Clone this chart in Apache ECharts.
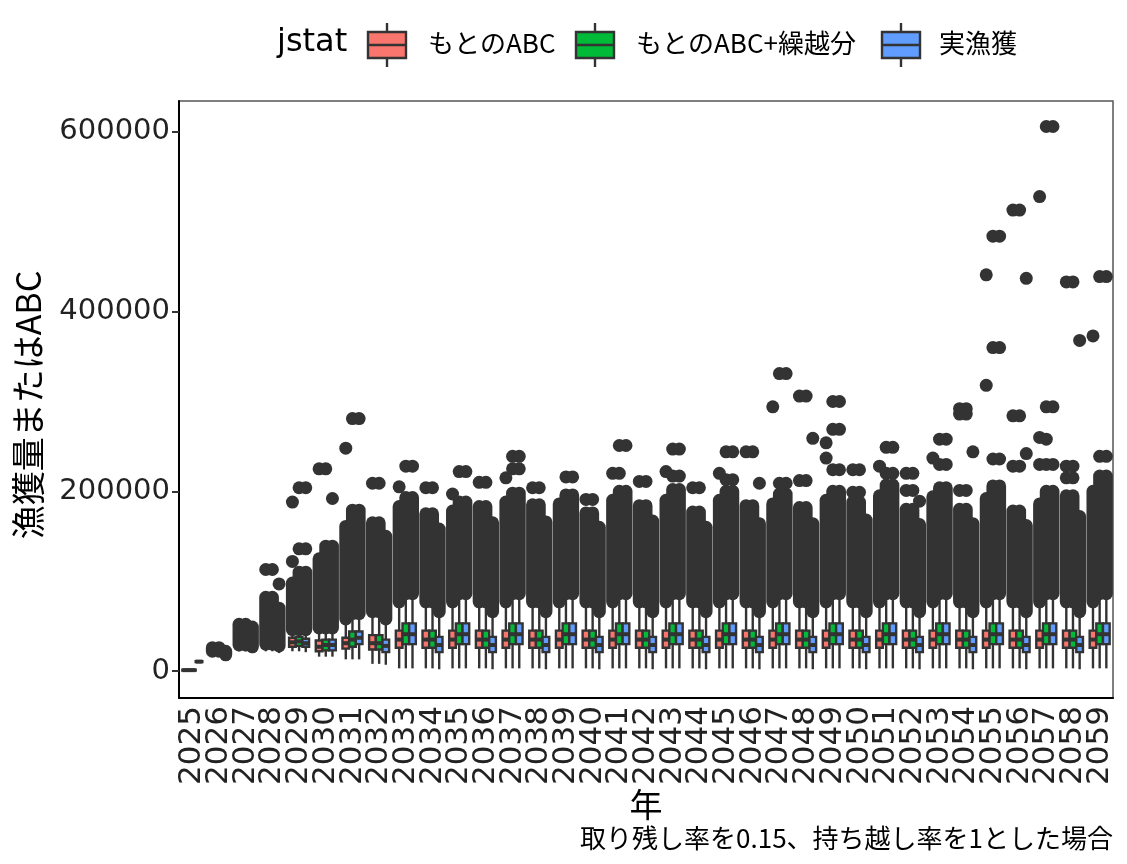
<!DOCTYPE html>
<html>
<head>
<meta charset="utf-8">
<script src="https://cdn.jsdelivr.net/npm/echarts@6/dist/echarts.min.js"></script>
<style>
  html, body { margin: 0; background: #fff; }
  #main { width: 1127px; height: 864px; }
</style>
</head>
<body>
<div id="main"></div>
<script>
// 年（カテゴリ）
const years = ['2025', '2026', '2027', '2028', '2029', '2030', '2031', '2032', '2033', '2034',
  '2035', '2036', '2037', '2038', '2039', '2040', '2041', '2042', '2043', '2044',
  '2045', '2046', '2047', '2048', '2049', '2050', '2051', '2052', '2053', '2054',
  '2055', '2056', '2057', '2058', '2059'];
const groupNames = ['もとのABC', 'もとのABC+繰越分', '実漁獲'];
const yTicks = [0, 200000, 400000, 600000];

// 箱ひげ [下ひげ, Q1, 中央値, Q3, 上ひげ]
const boxRed = [
  [0, 500, 1000, 1500, 2000], [21000, 24000, 25500, 27000, 30000], [22000, 30000, 35000, 40000, 50000],
  [22000, 28000, 32000, 37000, 50000], [22000, 27000, 32000, 37000, 42000], [16000, 22000, 27000, 34000, 42000],
  [13000, 25000, 31000, 37000, 53000], [8000, 24000, 31000, 40000, 62000], [3000, 26000, 35000, 45000, 71000],
  [3000, 26000, 35000, 45000, 71000], [3000, 26000, 35000, 45000, 71000], [3000, 26000, 35000, 45000, 71000],
  [3000, 26000, 35000, 45000, 71000], [3000, 26000, 35000, 45000, 71000], [3000, 26000, 35000, 45000, 71000],
  [3000, 26000, 35000, 45000, 71000], [3000, 26000, 35000, 45000, 71000], [3000, 26000, 35000, 45000, 71000],
  [3000, 26000, 35000, 45000, 71000], [3000, 26000, 35000, 45000, 71000], [3000, 26000, 35000, 45000, 71000],
  [3000, 26000, 35000, 45000, 71000], [3000, 26000, 35000, 45000, 71000], [3000, 26000, 35000, 45000, 71000],
  [3000, 26000, 35000, 45000, 71000], [3000, 26000, 35000, 45000, 71000], [3000, 26000, 35000, 45000, 71000],
  [3000, 26000, 35000, 45000, 71000], [3000, 26000, 35000, 45000, 71000], [3000, 26000, 35000, 45000, 71000],
  [3000, 26000, 35000, 45000, 71000], [3000, 26000, 35000, 45000, 71000], [3000, 26000, 35000, 45000, 71000],
  [3000, 26000, 35000, 45000, 71000], [3000, 26000, 35000, 45000, 71000]
];
const boxGreen = [
  [0, 500, 1000, 1500, 2000], [21000, 24000, 25500, 27000, 30000], [22000, 30000, 35000, 40000, 50000],
  [22000, 28000, 32000, 37000, 50000], [22000, 28000, 33000, 38000, 42000], [16000, 23000, 29000, 35000, 44000],
  [13000, 27000, 35000, 44000, 60000], [8000, 24000, 31000, 40000, 62000], [3000, 30000, 41000, 53000, 81000],
  [3000, 26000, 35000, 45000, 71000], [3000, 30000, 41000, 53000, 81000], [3000, 26000, 35000, 45000, 71000],
  [3000, 30000, 41000, 53000, 81000], [3000, 26000, 35000, 45000, 71000], [3000, 30000, 41000, 53000, 81000],
  [3000, 26000, 35000, 45000, 71000], [3000, 30000, 41000, 53000, 81000], [3000, 26000, 35000, 45000, 71000],
  [3000, 30000, 41000, 53000, 81000], [3000, 26000, 35000, 45000, 71000], [3000, 30000, 41000, 53000, 81000],
  [3000, 26000, 35000, 45000, 71000], [3000, 30000, 41000, 53000, 81000], [3000, 26000, 35000, 45000, 71000],
  [3000, 30000, 41000, 53000, 81000], [3000, 26000, 35000, 45000, 71000], [3000, 30000, 41000, 53000, 81000],
  [3000, 26000, 35000, 45000, 71000], [3000, 30000, 41000, 53000, 81000], [3000, 26000, 35000, 45000, 71000],
  [3000, 30000, 41000, 53000, 81000], [3000, 26000, 35000, 45000, 71000], [3000, 30000, 41000, 53000, 81000],
  [3000, 26000, 35000, 45000, 71000], [3000, 30000, 41000, 53000, 81000]
];
const boxBlue = [
  [9500, 10000, 10500, 11000, 11500], [16000, 19000, 21000, 23000, 26000], [20000, 27000, 31000, 36000, 46000],
  [20000, 25000, 29000, 33000, 45000], [21000, 27000, 31000, 36000, 42000], [16000, 23000, 29000, 35000, 44000],
  [13000, 30000, 37000, 44000, 62000], [7000, 21000, 28000, 35000, 54000], [3000, 30000, 41000, 53000, 81000],
  [2000, 21000, 29000, 38000, 60000], [3000, 30000, 41000, 53000, 81000], [2000, 21000, 29000, 38000, 60000],
  [3000, 30000, 41000, 53000, 81000], [2000, 21000, 29000, 38000, 60000], [3000, 30000, 41000, 53000, 81000],
  [2000, 21000, 29000, 38000, 60000], [3000, 30000, 41000, 53000, 81000], [2000, 21000, 29000, 38000, 60000],
  [3000, 30000, 41000, 53000, 81000], [2000, 21000, 29000, 38000, 60000], [3000, 30000, 41000, 53000, 81000],
  [2000, 21000, 29000, 38000, 60000], [3000, 30000, 41000, 53000, 81000], [2000, 21000, 29000, 38000, 60000],
  [3000, 30000, 41000, 53000, 81000], [2000, 21000, 29000, 38000, 60000], [3000, 30000, 41000, 53000, 81000],
  [2000, 21000, 29000, 38000, 60000], [3000, 30000, 41000, 53000, 81000], [2000, 21000, 29000, 38000, 60000],
  [3000, 30000, 41000, 53000, 81000], [2000, 21000, 29000, 38000, 60000], [3000, 30000, 41000, 53000, 81000],
  [2000, 21000, 29000, 38000, 60000], [3000, 30000, 41000, 53000, 81000]
];

// 外れ値が密集して帯になっている範囲 [下端, 上端]
const denseRed = [null,
  [22000, 26000], [29000, 52000], [30000, 82000], [46000, 98000], [48000, 125000], [58000, 161000],
  [66000, 165000], [77000, 183000], [77000, 175000], [77000, 178000], [77000, 183000], [77000, 188000],
  [77000, 185000], [77000, 186000], [77000, 176000], [77000, 190000], [77000, 184000], [77000, 190000],
  [77000, 177000], [77000, 190000], [77000, 184000], [77000, 186000], [77000, 182000], [77000, 190000],
  [77000, 188000], [77000, 195000], [77000, 180000], [77000, 194000], [77000, 180000], [77000, 192000],
  [77000, 178000], [77000, 186000], [77000, 195000], [77000, 200000]
];
const denseGreen = [null,
  [22000, 26000], [29000, 52000], [30000, 82000], [46000, 110000], [48000, 139000], [64000, 179000],
  [66000, 165000], [86000, 193000], [77000, 175000], [86000, 188000], [77000, 183000], [86000, 198000],
  [77000, 185000], [86000, 196000], [77000, 176000], [86000, 200000], [77000, 184000], [86000, 202000],
  [77000, 177000], [86000, 200000], [77000, 184000], [86000, 197000], [77000, 182000], [86000, 200000],
  [77000, 188000], [86000, 207000], [77000, 180000], [86000, 204000], [77000, 180000], [86000, 206000],
  [77000, 178000], [86000, 200000], [77000, 195000], [86000, 217000]
];
const denseBlue = [null,
  [18000, 22000], [27000, 49000], [28000, 70000], [46000, 110000], [48000, 139000], [64000, 179000],
  [58000, 150000], [86000, 193000], [66000, 158000], [86000, 188000], [66000, 165000], [86000, 198000],
  [66000, 166000], [86000, 196000], [66000, 160000], [86000, 200000], [66000, 167000], [86000, 202000],
  [66000, 160000], [86000, 200000], [66000, 164000], [86000, 197000], [66000, 164000], [86000, 200000],
  [66000, 168000], [86000, 207000], [66000, 163000], [86000, 204000], [66000, 164000], [86000, 206000],
  [66000, 162000], [86000, 200000], [66000, 172000], [86000, 217000]
];

// 離れた外れ値 [年の番号, 値]
const outRed = [
  [3, 113000], [4, 122000], [4, 188000], [5, 225000], [6, 248000], [7, 209000], [8, 205000],
  [9, 204000], [10, 197000], [11, 210000], [12, 215000], [13, 204000], [15, 191000], [16, 220000],
  [17, 211000], [18, 222000], [19, 204000], [20, 220000], [21, 244000], [22, 294000], [23, 306000],
  [23, 212000], [24, 254000], [24, 237000], [25, 224000], [25, 199000], [26, 228000], [27, 220000],
  [27, 201000], [28, 237000], [29, 292000], [29, 286000], [29, 201000], [30, 441000], [30, 318000],
  [31, 513000], [31, 284000], [31, 228000], [32, 528000], [32, 260000], [32, 230000], [33, 433000],
  [33, 228000], [33, 215000], [34, 373000]
];
const outGreen = [
  [3, 113000], [4, 136000], [4, 204000], [5, 225000], [6, 281000], [7, 209000], [8, 228000],
  [9, 204000], [10, 222000], [11, 210000], [12, 239000], [12, 225000], [13, 204000], [14, 216000],
  [15, 191000], [16, 251000], [16, 220000], [17, 211000], [18, 247000], [18, 217000], [19, 204000],
  [20, 244000], [20, 213000], [21, 244000], [22, 331000], [22, 209000], [23, 306000], [23, 212000],
  [24, 300000], [24, 269000], [24, 224000], [25, 224000], [25, 199000], [26, 249000], [26, 220000],
  [27, 220000], [27, 201000], [28, 258000], [28, 230000], [29, 292000], [29, 286000], [29, 201000],
  [30, 484000], [30, 360000], [30, 236000], [31, 513000], [31, 284000], [31, 228000], [32, 606000],
  [32, 294000], [32, 258000], [32, 230000], [33, 433000], [33, 228000], [33, 215000], [34, 439000],
  [34, 239000]
];
const outBlue = [
  [3, 97000], [4, 136000], [4, 204000], [5, 192000], [6, 281000], [8, 228000], [10, 222000],
  [12, 239000], [12, 225000], [14, 216000], [16, 251000], [18, 247000], [18, 217000], [20, 244000],
  [20, 213000], [21, 209000], [22, 331000], [22, 209000], [23, 259000], [24, 300000], [24, 269000],
  [24, 224000], [26, 249000], [26, 220000], [27, 189000], [28, 258000], [28, 230000], [29, 244000],
  [30, 484000], [30, 360000], [30, 236000], [31, 437000], [31, 242000], [32, 606000], [32, 294000],
  [32, 230000], [33, 368000], [34, 439000], [34, 239000]
];

const colors = ['#F8766D', '#00BA38', '#619CFF'];
const shifts = [-0.25, 0, 0.25];
const INK = '#333333';
const JP = '"Noto Sans CJK JP", sans-serif';
const LAT = 'DejaVu Sans';

function boxItem(color, shift) {
  return function (params, api) {
    const i = api.value(0);
    const band = api.size([1, 0])[0];
    const cx = api.coord([i, 0])[0] + shift * band;
    const half = band * 0.125;
    const y = k => api.coord([i, api.value(k)])[1];
    const lo = y(1), q1 = y(2), md = y(3), q3 = y(4), hi = y(5);
    const seg = (x1, y1, x2, y2, w) => ({
      type: 'line', shape: { x1, y1, x2, y2 }, style: { stroke: INK, lineWidth: w }
    });
    return {
      type: 'group',
      children: [
        seg(cx, hi, cx, q3, 2.4),
        seg(cx, q1, cx, lo, 2.4),
        { type: 'rect', shape: { x: cx - half, y: q3, width: half * 2, height: q1 - q3 },
          style: { fill: color, stroke: INK, lineWidth: 2.4 } },
        seg(cx - half, md, cx + half, md, 4)
      ]
    };
  };
}

function denseItem(shift) {
  return function (params, api) {
    const i = api.value(0);
    const band = api.size([1, 0])[0];
    const cx = api.coord([i, 0])[0] + shift * band;
    return {
      type: 'line',
      shape: { x1: cx, y1: api.coord([i, api.value(1)])[1], x2: cx, y2: api.coord([i, api.value(2)])[1] },
      style: { stroke: INK, lineWidth: 13, lineCap: 'round' }
    };
  };
}

function dotItem(shift) {
  return function (params, api) {
    const i = api.value(0);
    const band = api.size([1, 0])[0];
    const p = api.coord([i, api.value(1)]);
    return { type: 'circle', shape: { cx: p[0] + shift * band, cy: p[1], r: 6.5 }, style: { fill: INK } };
  };
}

const boxes = [boxRed, boxGreen, boxBlue];
const denses = [denseRed, denseGreen, denseBlue];
const outs = [outRed, outGreen, outBlue];

const series = [];
boxes.forEach((b, g) => series.push({
  type: 'custom', name: groupNames[g], renderItem: boxItem(colors[g], shifts[g]),
  encode: { x: 0, y: [1, 2, 3, 4, 5] },
  data: b.map((s, i) => [i].concat(s))
}));
denses.forEach((d, g) => series.push({
  type: 'custom', renderItem: denseItem(shifts[g]), encode: { x: 0, y: [1, 2] },
  data: d.map((r, i) => r ? [i, r[0], r[1]] : null).filter(Boolean)
}));
outs.forEach((o, g) => series.push({
  type: 'custom', renderItem: dotItem(shifts[g]), encode: { x: 0, y: 1 }, data: o
}));

// 凡例（ggplot 風の箱ひげキー）
const keyX = [387, 595, 901];
const labelX = [428, 636, 939];
const legendGraphics = [{
  type: 'text', x: 277, y: 43,
  style: { text: 'jstat', font: '32px "DejaVu Sans"', fill: '#000', verticalAlign: 'middle' }
}];
groupNames.forEach((name, g) => {
  const cx = keyX[g], cy = 45;
  legendGraphics.push(
    { type: 'line', shape: { x1: cx, y1: cy - 22, x2: cx, y2: cy + 22 }, style: { stroke: INK, lineWidth: 2.4 } },
    { type: 'rect', shape: { x: cx - 19, y: cy - 13, width: 38, height: 26 },
      style: { fill: colors[g], stroke: INK, lineWidth: 2.4 } },
    { type: 'line', shape: { x1: cx - 19, y1: cy, x2: cx + 19, y2: cy }, style: { stroke: INK, lineWidth: 2.4 } },
    { type: 'text', x: labelX[g], y: 43,
      style: { text: name, font: '26px ' + JP, fill: '#000', verticalAlign: 'middle' } }
  );
});

const chart = echarts.init(document.getElementById('main'));
chart.setOption({
  animation: false,
  backgroundColor: '#fff',
  grid: { left: 179, right: 14, top: 101, bottom: 166, show: true, borderColor: '#555', borderWidth: 1.5 },
  xAxis: {
    type: 'category', data: years, boundaryGap: true,
    axisLine: { onZero: false, lineStyle: { color: '#000', width: 2 } },
    axisTick: { alignWithLabel: true, length: 7, lineStyle: { color: '#333', width: 2 } },
    axisLabel: { interval: 0, rotate: 90, fontFamily: LAT, fontSize: 31, color: '#222', margin: 8 },
    splitLine: { show: false }
  },
  yAxis: {
    type: 'value', min: -30000, max: 634400,
    axisLine: { show: true, lineStyle: { color: '#000', width: 2 } },
    axisTick: { show: true, length: 7, lineStyle: { color: '#333', width: 2 }, customValues: yTicks },
    axisLabel: { customValues: yTicks, formatter: v => String(v), fontFamily: LAT, fontSize: 29, color: '#222', margin: 9 },
    splitLine: { show: false }
  },
  series: series,
  graphic: legendGraphics.concat([
    { type: 'text', x: 28, y: 405, rotation: Math.PI / 2,
      style: { text: '漁獲量またはABC', font: '34px ' + JP, fill: '#000', align: 'center', verticalAlign: 'middle' } },
    { type: 'text', x: 646, y: 804,
      style: { text: '年', font: '33px ' + JP, fill: '#000', align: 'center', verticalAlign: 'middle' } },
    { type: 'text', x: 1113, y: 838,
      style: { text: '取り残し率を0.15、持ち越し率を1とした場合', font: '26px ' + JP, fill: '#000', align: 'right', verticalAlign: 'middle' } }
  ])
});
</script>
</body>
</html>
